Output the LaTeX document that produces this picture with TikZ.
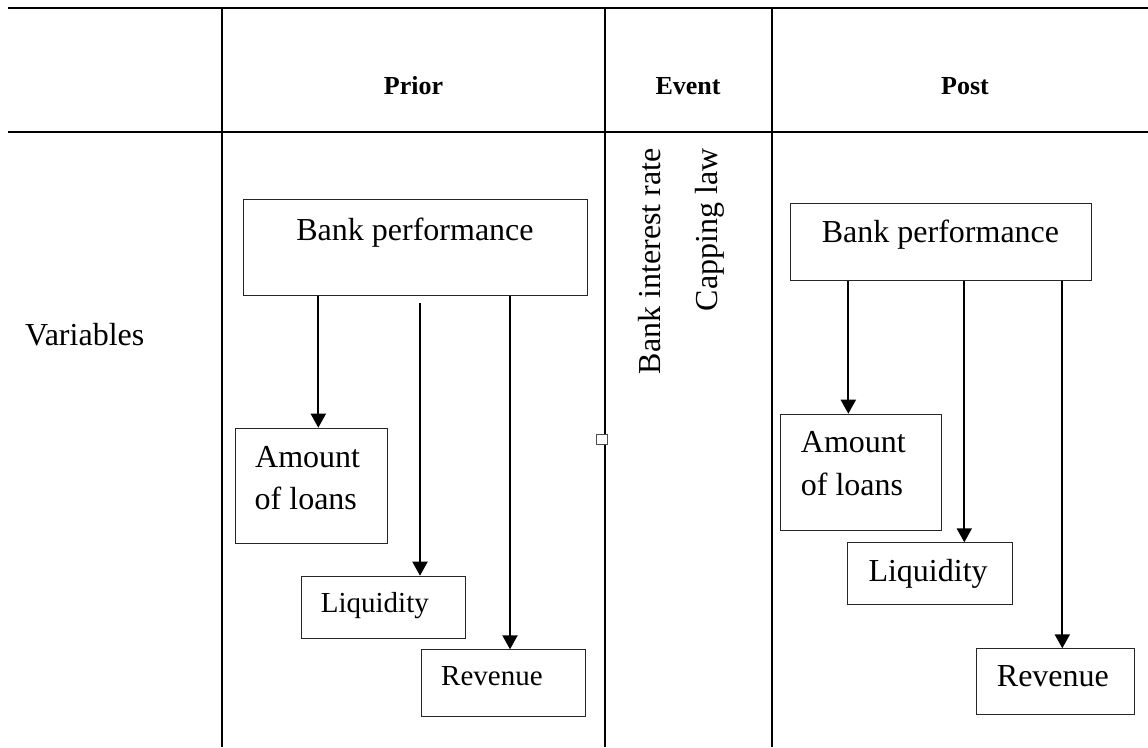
\documentclass[tikz,border=0pt]{standalone}
\usepackage{fontspec}
\setmainfont{Liberation Serif}
\usetikzlibrary{arrows.meta}
\begin{document}
\begin{tikzpicture}[x=1pt,y=-1pt,
  rule/.style={line width=2pt, black},
  box/.style={draw=black!85, line width=1.1pt, rectangle, inner sep=0pt, anchor=north west},
  flow/.style={line width=2pt, -{Triangle[width=15pt,length=14pt]}},
  body/.style={font=\fontsize{32}{38}\selectfont, inner sep=0pt},
  small/.style={font=\fontsize{29}{34}\selectfont, inner sep=0pt},
  head/.style={font=\fontsize{26}{30}\selectfont\bfseries, inner sep=0pt},
]
\useasboundingbox (0,0) rectangle (1148,747);

% table rules
\draw[rule] (8,7.5) -- (1148,7.5);
\draw[rule] (8,131.7) -- (1148,131.7);
\draw[rule] (221.7,7.5) -- (221.7,747);
\draw[rule] (605,7.5) -- (605,747);
\draw[rule] (772,7.5) -- (772,747);

% header row
\node[head, anchor=base] (hprior) at (413.5,94) {Prior};
\node[head, anchor=base] (hevent) at (688,94) {Event};
\node[head, anchor=base] (hpost) at (965,94) {Post};

% row label
\node[body, anchor=base west] (var) at (25,345.7) {Variables};

% prior column boxes
\node[box, minimum width=344pt, minimum height=96pt] (pbank) at (243,199) {};
\node[box, minimum width=152pt, minimum height=115.6pt] (pamount) at (234.7,427.7) {};
\node[box, minimum width=164.3pt, minimum height=62pt] (pliq) at (300.7,575.7) {};
\node[box, minimum width=164.3pt, minimum height=66.4pt] (prev) at (420.7,649.3) {};

\node[body, anchor=base] (pbanktxt) at (415,240) {Bank performance};
\node[body, anchor=base west] (pamtA) at (255,467.3) {Amount};
\node[body, anchor=base west] (pamtB) at (254.5,509.3) {of loans};
\node[small, anchor=base west] (pliqtxt) at (320.7,612.7) {Liquidity};
\node[small, anchor=base west] (prevtxt) at (441,685) {Revenue};

\draw[flow] (318.3,0 |- pbank.south) -- (318.3,0 |- pamount.north);
\draw[flow] ([yshift=-7pt]420,0 |- pbank.south) -- (420,0 |- pliq.north);
\draw[flow] (510,0 |- pbank.south) -- (510,0 |- prev.north);

% event column
\node[body, rotate=90, anchor=base east] (evA) at (660,148.3) {Bank interest rate};
\node[body, rotate=90, anchor=base east] (evB) at (717.5,148.3) {Capping law};

% anchor handle on the column rule
\node[draw=black!70, fill=white, line width=0.8pt, minimum width=11pt, minimum height=10pt, inner sep=0pt] (handle) at (601.7,439.3) {};

% post column boxes
\node[box, minimum width=300.7pt, minimum height=77.3pt] (qbank) at (790,202.7) {};
\node[box, minimum width=160.7pt, minimum height=116.3pt] (qamount) at (780,413.7) {};
\node[box, minimum width=164.4pt, minimum height=61.7pt] (qliq) at (847.3,542.3) {};
\node[box, minimum width=158pt, minimum height=66pt] (qrev) at (976.3,648.3) {};

\node[body, anchor=base] (qbanktxt) at (940.5,242.7) {Bank performance};
\node[body, anchor=base west] (qamtA) at (800.7,452.7) {Amount};
\node[body, anchor=base west] (qamtB) at (800.7,495.7) {of loans};
\node[body, anchor=base west] (qliqtxt) at (868.3,581.7) {Liquidity};
\node[body, anchor=base west] (qrevtxt) at (996.7,686.7) {Revenue};

\draw[flow] (848.3,0 |- qbank.south) -- (848.3,0 |- qamount.north);
\draw[flow] (964.3,0 |- qbank.south) -- (964.3,0 |- qliq.north);
\draw[flow] (1062.3,0 |- qbank.south) -- (1062.3,0 |- qrev.north);
\end{tikzpicture}
\end{document}
